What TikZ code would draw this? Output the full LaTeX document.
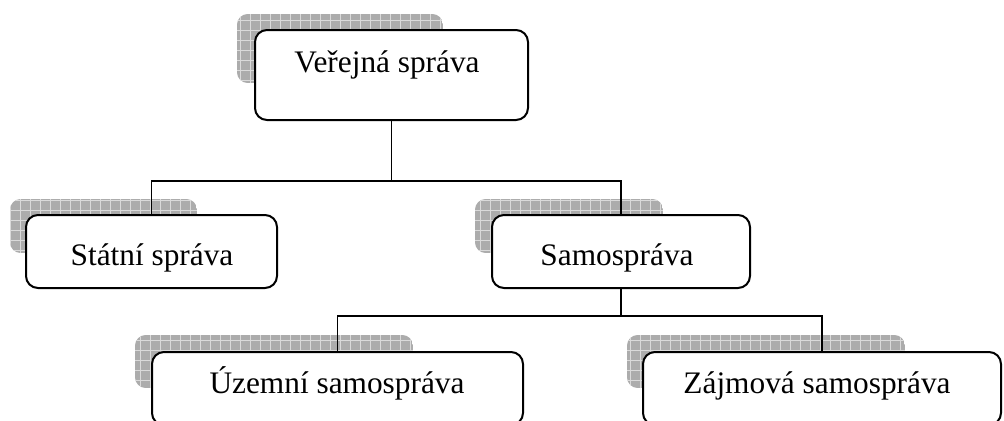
\documentclass[tikz,border=0pt]{standalone}
\usepackage{fontspec}
\setmainfont{Liberation Serif}
\tikzset{
  orgbox/.style={draw=black, line width=1.5pt, fill=white, rounded corners=9pt, inner sep=0pt},
  orgtext/.style={anchor=base, inner sep=0pt, font=\fontsize{23.5}{27}\selectfont},
  conn/.style={draw=black, line width=1.3pt},
  shfill/.style={fill={rgb,255:red,172;green,172;blue,172}},
  shgrid/.style={draw={rgb,255:red,218;green,218;blue,218}, line width=0.7pt}
}
\newcommand\shadowpanel[4]{%
  \begin{scope}
    \clip[rounded corners=8pt] (#1,#2) rectangle (#3,#4);
    \fill[shfill] (#1,#2) rectangle (#3,#4);
    \draw[shgrid, step=7.5pt] (#1,#2) grid (#3,#4);
  \end{scope}}
\begin{document}
\begin{tikzpicture}[x=0.75pt, y=-0.75pt]
\useasboundingbox (0,0) rectangle (1004,421);
\clip (0,0) rectangle (1004,421);
% shadows
\shadowpanel{237}{14}{443}{83}
\shadowpanel{10}{199}{197}{253}
\shadowpanel{475}{199}{663}{253}
\shadowpanel{135}{335}{413}{388}
\shadowpanel{627}{335}{905}{388}
% boxes
\node[orgbox, minimum width=204.75pt, minimum height=67.5pt] (top) at (391.5,75) {};
\node[orgbox, minimum width=188.25pt, minimum height=54.75pt] (stat) at (151.5,251.5) {};
\node[orgbox, minimum width=193.5pt, minimum height=54.75pt] (samo) at (621,251.5) {};
\node[orgbox, minimum width=278.25pt, minimum height=54.75pt] (uzem) at (337.5,388.5) {};
\node[orgbox, minimum width=268.5pt, minimum height=54.75pt] (zajm) at (822,388.5) {};
% texts
\node[orgtext] (ttop) at (387,72) {Veřejná správa};
\node[orgtext] (tstat) at (152,265) {Státní správa};
\node[orgtext] (tsamo) at (617,265) {Samospráva};
\node[orgtext] (tuzem) at (337,393) {Územní samospráva};
\node[orgtext] (tzajm) at (817,393) {Zájmová samospráva};
% connectors
\coordinate (j1) at (0,181);
\coordinate (j2) at (0,316);
\draw[conn] (top.south) -- (top.south |- j1) -| (stat.north);
\draw[conn] (top.south |- j1) -| (samo.north);
\draw[conn] (samo.south) -- (samo.south |- j2) -| (uzem.north);
\draw[conn] (samo.south |- j2) -| (zajm.north);
\end{tikzpicture}
\end{document}
